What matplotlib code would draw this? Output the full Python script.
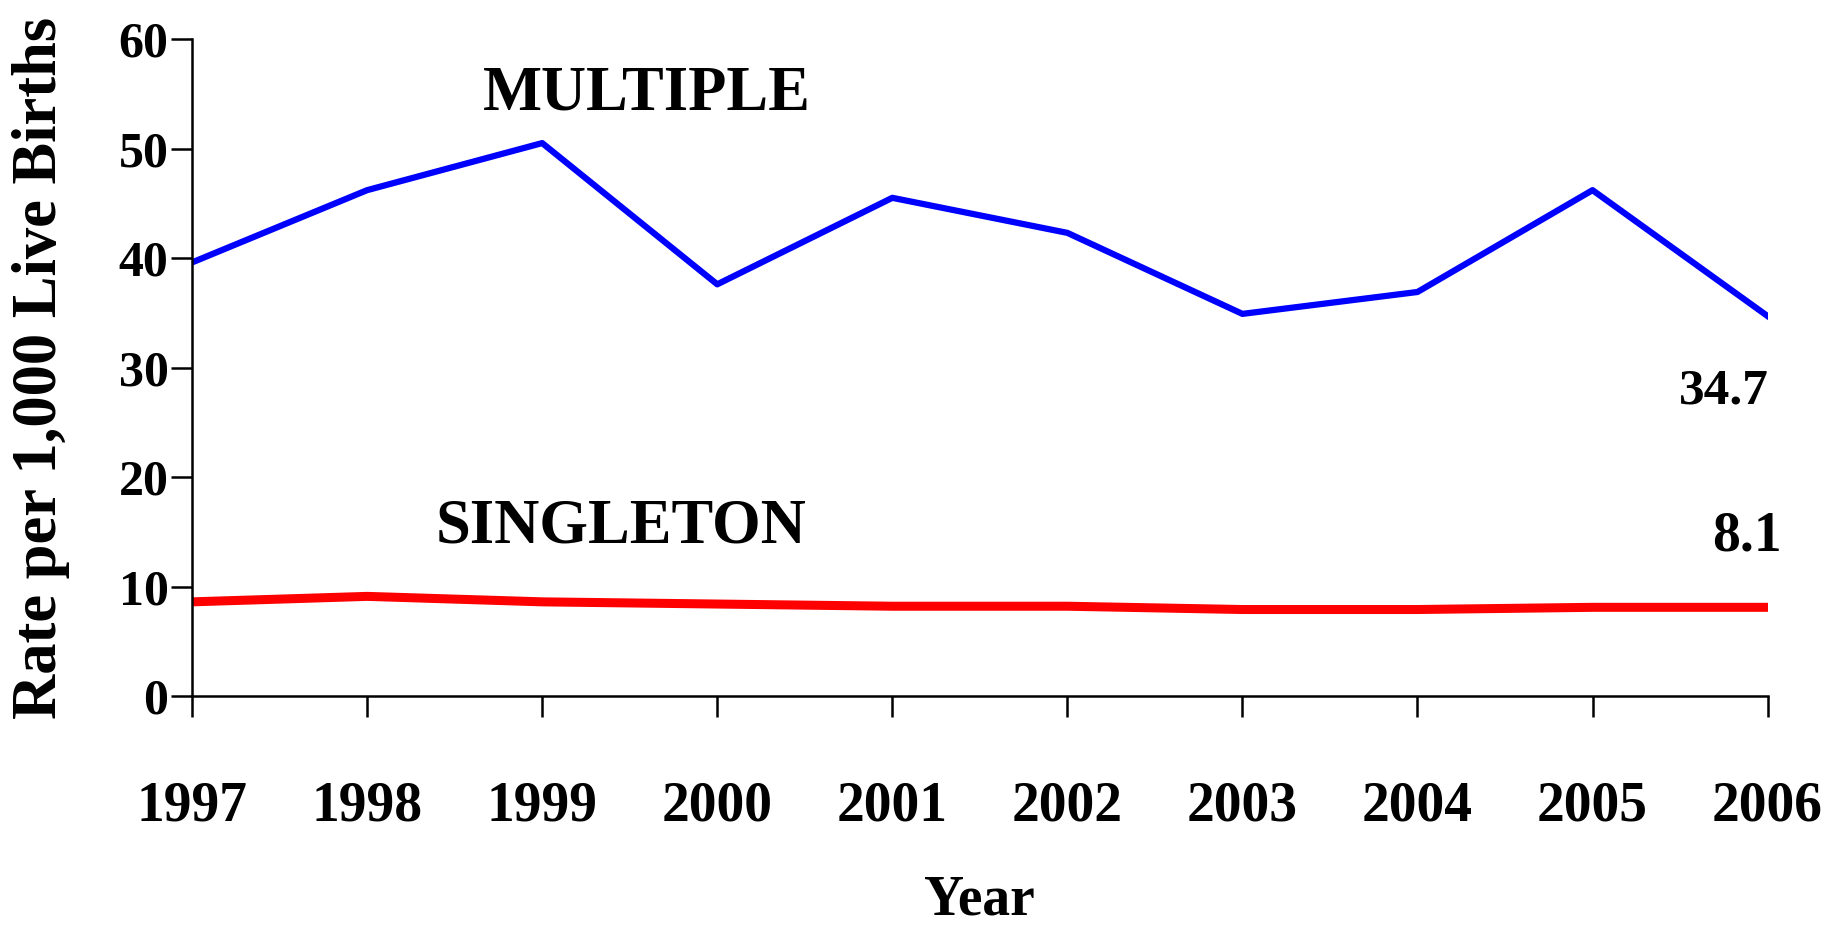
import matplotlib.pyplot as plt

years = [1997, 1998, 1999, 2000, 2001, 2002, 2003, 2004, 2005, 2006]
multiple = [39.6, 46.2, 50.5, 37.6, 45.5, 42.3, 34.9, 36.9, 46.2, 34.7]
singleton = [8.6, 9.1, 8.6, 8.4, 8.2, 8.2, 7.9, 7.9, 8.1, 8.1]

plt.rcParams['font.family'] = ['Liberation Serif', 'DejaVu Serif']
plt.rcParams['font.weight'] = 'bold'

fig = plt.figure(figsize=(18.47, 9.30), dpi=100)
ax = fig.add_axes([0.104, 0.2516, 0.853, 0.7064])

ax.plot(years, multiple, color='#0000ff', lw=4.5)
ax.plot(years, singleton, color='#ff0000', lw=6.5)

# series labels and end values
ax.text(1999.6, 54.9, 'MULTIPLE', fontsize=45, fontweight='bold', ha='center', va='center')
ax.text(1999.45, 15.4, 'SINGLETON', fontsize=45, fontweight='bold', ha='center', va='center')
ax.text(2005.75, 27.8, f'{multiple[-1]}', fontsize=37, fontweight='bold', ha='center', va='center')
ax.text(2005.88, 14.6, f'{singleton[-1]}', fontsize=40, fontweight='bold', ha='center', va='center')

ax.set_xlim(1997, 2006)
ax.set_ylim(0, 60)
ax.set_xticks(years)
ax.set_yticks(range(0, 61, 10))

for s in ['top', 'right']:
    ax.spines[s].set_visible(False)
ax.spines['left'].set_linewidth(1.8)
ax.spines['bottom'].set_linewidth(1.8)

ax.tick_params(axis='y', length=15, width=1.8, pad=2, labelsize=36)
ax.tick_params(axis='x', length=15, width=1.8, pad=46, labelsize=40)
for lab in ax.get_xticklabels() + ax.get_yticklabels():
    lab.set_fontweight('bold')

ax.set_ylabel('Rate per 1,000 Live Births', fontsize=45, fontweight='bold', labelpad=35)
ax.set_xlabel('Year', fontsize=40, fontweight='bold', labelpad=30)

fig.savefig('out.png', dpi=100, facecolor='white')
